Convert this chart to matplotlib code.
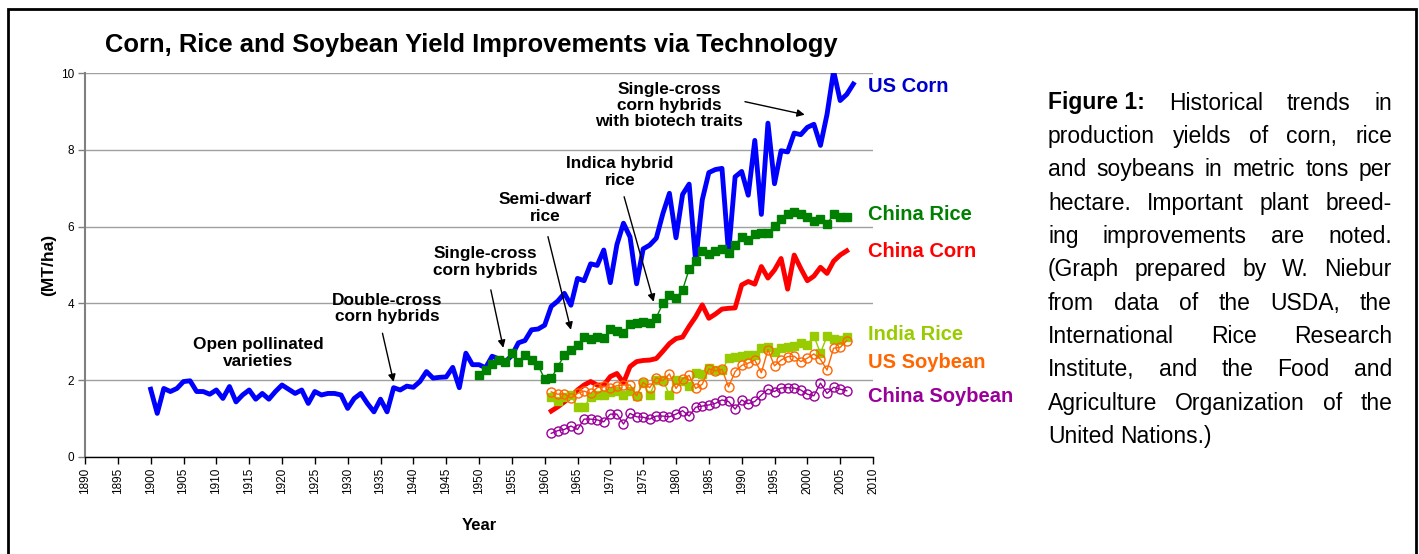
import matplotlib
matplotlib.use("Agg")
import matplotlib.pyplot as plt
from matplotlib.patches import Rectangle
import numpy as np

plt.rcParams['font.family'] = ['Liberation Sans', 'DejaVu Sans']

# ---- data (MT/ha) ----
us_corn_years = np.arange(1900, 2008)
us_corn = [1.76, 1.13, 1.78, 1.70, 1.78, 1.96, 1.98, 1.70, 1.70, 1.63,
           1.74, 1.52, 1.83, 1.43, 1.61, 1.74, 1.50, 1.65, 1.50, 1.70,
           1.87, 1.76, 1.65, 1.74, 1.39, 1.70, 1.61, 1.65, 1.65, 1.61,
           1.26, 1.52, 1.65, 1.39, 1.17, 1.50, 1.17, 1.80, 1.74, 1.84,
           1.81, 1.96, 2.22, 2.05, 2.07, 2.08, 2.33, 1.80, 2.70, 2.40,
           2.40, 2.32, 2.62, 2.55, 2.47, 2.64, 2.97, 3.03, 3.31, 3.33,
           3.43, 3.92, 4.06, 4.26, 3.95, 4.65, 4.59, 5.03, 4.99, 5.39,
           4.54, 5.53, 6.09, 5.73, 4.51, 5.42, 5.52, 5.70, 6.34, 6.87,
           5.71, 6.84, 7.11, 5.09, 6.70, 7.41, 7.49, 7.52, 5.31, 7.30,
           7.44, 6.82, 8.25, 6.32, 8.70, 7.12, 7.98, 7.95, 8.44, 8.40,
           8.59, 8.67, 8.12, 8.93, 10.06, 9.29, 9.45, 9.72]

china_rice_years = np.arange(1950, 2007)
china_rice = [2.13, 2.26, 2.43, 2.52, 2.48, 2.70, 2.48, 2.65, 2.52, 2.39,
              2.02, 2.04, 2.35, 2.65, 2.78, 2.91, 3.11, 3.06, 3.13, 3.09,
              3.32, 3.29, 3.23, 3.46, 3.48, 3.52, 3.48, 3.63, 4.00, 4.22,
              4.13, 4.35, 4.89, 5.10, 5.37, 5.29, 5.37, 5.41, 5.30, 5.52,
              5.74, 5.65, 5.81, 5.84, 5.83, 6.03, 6.20, 6.33, 6.37, 6.33,
              6.26, 6.16, 6.19, 6.06, 6.33, 6.26, 6.26]

yrs61 = np.arange(1961, 2007)
china_corn = [1.19, 1.30, 1.43, 1.57, 1.74, 1.87, 1.96, 1.87, 1.87, 2.09,
              2.17, 1.93, 2.35, 2.48, 2.51, 2.52, 2.56, 2.75, 2.95, 3.08,
              3.12, 3.40, 3.65, 3.96, 3.61, 3.72, 3.85, 3.87, 3.88, 4.48,
              4.57, 4.50, 4.96, 4.66, 4.87, 5.17, 4.37, 5.26, 4.91, 4.59,
              4.71, 4.94, 4.78, 5.10, 5.26, 5.37]

india_rice = [1.55, 1.45, 1.55, 1.60, 1.30, 1.30, 1.55, 1.62, 1.62, 1.68,
              1.72, 1.61, 1.72, 1.58, 1.92, 1.62, 2.00, 2.01, 1.61, 2.00,
              1.97, 1.85, 2.18, 2.16, 2.31, 2.25, 2.25, 2.57, 2.61, 2.62,
              2.66, 2.66, 2.83, 2.87, 2.72, 2.83, 2.87, 2.89, 2.96, 2.92,
              3.15, 2.70, 3.15, 3.06, 3.05, 3.13]

us_soybean = [1.69, 1.63, 1.64, 1.53, 1.65, 1.71, 1.65, 1.80, 1.84, 1.80,
              1.85, 1.87, 1.87, 1.59, 1.94, 1.80, 2.06, 1.98, 2.16, 1.78,
              2.03, 2.12, 1.78, 1.89, 2.29, 2.24, 2.28, 1.82, 2.22, 2.38,
              2.44, 2.52, 2.19, 2.79, 2.37, 2.52, 2.61, 2.62, 2.48, 2.57,
              2.68, 2.54, 2.26, 2.83, 2.85, 3.03]

china_soybean = [0.61, 0.68, 0.71, 0.80, 0.71, 0.98, 0.98, 0.96, 0.91, 1.11,
                 1.11, 0.85, 1.13, 1.04, 1.03, 0.98, 1.06, 1.06, 1.04, 1.11,
                 1.20, 1.06, 1.29, 1.32, 1.35, 1.39, 1.48, 1.44, 1.24, 1.48,
                 1.38, 1.44, 1.61, 1.76, 1.70, 1.79, 1.80, 1.79, 1.74, 1.63,
                 1.59, 1.92, 1.65, 1.81, 1.76, 1.72]

series_names = ['US Corn', 'China Rice', 'China Corn', 'India Rice',
                'US Soybean', 'China Soybean']
label_values = [9.65, 6.31, 5.34, 3.18, 2.45, 1.56]

notes = ['Open pollinated\nvarieties', 'Double-cross\ncorn hybrids',
         'Single-cross\ncorn hybrids', 'Semi-dwarf\nrice',
         'Indica hybrid\nrice',
         'Single-cross\ncorn hybrids\nwith biotech traits']
note_pos = [(1916.4, 2.70), (1936.0, 3.87), (1950.9, 5.08), (1960.1, 6.49),
            (1971.5, 7.43), (1979.0, 9.16)]
arrow_from = [None, (1935.3, 3.22), (1951.8, 4.35), (1960.5, 5.74),
              (1972.1, 6.78), (1990.5, 9.26)]
arrow_to = [None, (1937.0, 1.95), (1953.7, 2.84), (1964.0, 3.31),
            (1976.6, 4.04), (1999.6, 8.92)]

caption = ["Figure 1:  Historical trends in",
           "production yields of corn, rice",
           "and soybeans in metric tons per",
           "hectare.  Important plant breed-",
           "ing improvements are noted.",
           "(Graph prepared by W. Niebur",
           "from data of the USDA, the",
           "International Rice Research",
           "Institute, and the Food and",
           "Agriculture Organization of the",
           "United Nations.)"]

# ---- figure ----
W, H = 1419, 554
fig = plt.figure(figsize=(W / 100, H / 100), dpi=100)
ax = fig.add_axes([85 / W, 1 - 456.7 / H, (873 - 85) / W, (456.7 - 73.3) / H])

c_blue, c_green, c_red = '#0000FF', '#008000', '#FF0000'
c_lime, c_orange, c_purple = '#99CC00', '#FF6600', '#990099'

ax.plot(us_corn_years, us_corn, color=c_blue, lw=3.5, solid_joinstyle='round', zorder=3)
ax.plot(china_rice_years, china_rice, color=c_green, lw=1, marker='s',
        ms=5.4, mec=c_green, mfc=c_green, zorder=4)
ax.plot(yrs61, china_corn, color=c_red, lw=3.5, solid_joinstyle='round', zorder=3)
ax.plot(yrs61, india_rice, color=c_lime, lw=1, marker='s', ms=5.4,
        mec=c_lime, mfc=c_lime, zorder=4)
ax.plot(yrs61, us_soybean, color=c_orange, lw=1, marker='o', ms=6.5,
        mfc='none', mec=c_orange, mew=1, zorder=5)
ax.plot(yrs61, china_soybean, color=c_purple, lw=1, marker='o', ms=6.5,
        mfc='none', mec=c_purple, mew=1, zorder=5)

ax.set_xlim(1890, 2010)
ax.set_ylim(0, 10)
ax.set_xticks(np.arange(1890, 2011, 5))
ax.set_yticks(np.arange(0, 11, 2))
ax.tick_params(axis='x', labelrotation=90, labelsize=8.5, length=5, width=1,
               direction='out', color='black', pad=3)
ax.tick_params(axis='y', labelsize=8.5, length=5, width=1, direction='out',
               color='#808080', pad=3)
ax.grid(axis='y', color='#A0A0A0', lw=1)
ax.set_axisbelow(True)
for s in ['top', 'right']:
    ax.spines[s].set_visible(False)
ax.spines['left'].set_color('#808080')
ax.spines['left'].set_linewidth(1.5)
ax.spines['bottom'].set_color('black')
ax.spines['bottom'].set_linewidth(1)

ax.set_xlabel('Year', fontsize=12, fontweight='bold', labelpad=17)
ax.set_ylabel('(MT/ha)', fontsize=12.5, fontweight='bold', labelpad=3)

fig.text(471 / W, 1 - 45 / H,
         'Corn, Rice and Soybean Yield Improvements via Technology',
         fontsize=18.4, fontweight='bold', ha='center', va='center')

label_colors = ['#0000CC', '#008000', '#FF0000', '#99CC00', '#FF6600', '#990099']
for name, v, col in zip(series_names, label_values, label_colors):
    ax.text(2009.2, v, name, color=col, fontsize=14.5, fontweight='bold',
            ha='left', va='center', clip_on=False)

for txt, pos, a0, a1 in zip(notes, note_pos, arrow_from, arrow_to):
    ax.text(pos[0], pos[1], txt, fontsize=12.4, fontweight='bold', ha='center',
            va='center', linespacing=1.12, zorder=6)
    if a0 is not None:
        ax.annotate('', xy=a1, xytext=a0,
                    arrowprops=dict(arrowstyle='-|>', color='black', lw=1,
                                    mutation_scale=11, shrinkA=0, shrinkB=0),
                    zorder=6)

# ---- justified caption ----
renderer = fig.canvas.get_renderer()
left_px, right_px = 1048, 1392
cap_size = 16.5


def measure(s, weight='normal'):
    t = fig.text(0, 0, s, fontsize=cap_size, fontweight=weight)
    w = t.get_window_extent(renderer).width
    t.remove()
    return w


space_w = measure('a a') - measure('aa')
for i, line in enumerate(caption):
    base = 1 - (109.5 + i * 33.35) / H
    words = line.split()
    tokens = []
    if i == 0:
        tokens.append(('Figure 1:', 'bold'))
        words = words[2:]
    tokens += [(w, 'normal') for w in words]
    widths = [measure(w, wt) for w, wt in tokens]
    if i == len(caption) - 1:
        gap = space_w
    else:
        gap = (right_px - left_px - sum(widths)) / (len(tokens) - 1)
    x = left_px
    for (w, wt), wd in zip(tokens, widths):
        fig.text(x / W, base, w, fontsize=cap_size, fontweight=wt,
                 ha='left', va='baseline')
        x += wd + gap

fig.add_artist(Rectangle((8 / W, -0.05), (1416 - 8) / W, 1.05 - 9 / H,
                         transform=fig.transFigure, fill=False,
                         ec='black', lw=2))

fig.savefig('out.png', dpi=100)
